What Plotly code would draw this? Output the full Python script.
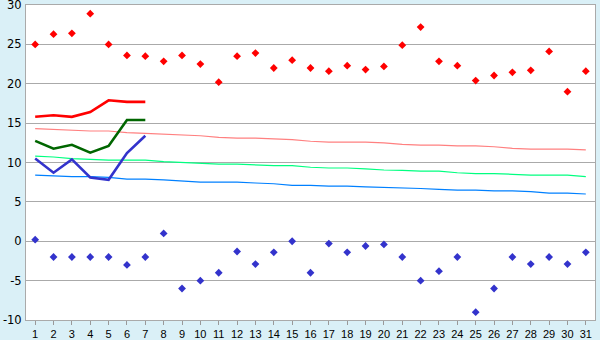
import plotly.graph_objects as go

days = list(range(1, 32))
tick_labels = [str(d) for d in days]

record_max = [25.0, 26.3, 26.4, 28.9, 25.0, 23.6, 23.5, 22.85, 23.6, 22.5,
              20.2, 23.5, 23.9, 22.0, 23.0, 22.0, 21.6, 22.3, 21.8, 22.2,
              24.9, 27.2, 22.85, 22.3, 20.4, 21.05, 21.45, 21.7, 24.1, 19.0, 21.6]
record_min = [0.2, -2.0, -2.0, -2.0, -2.0, -3.0, -2.0, 1.0, -6.0, -5.0,
              -4.0, -1.3, -2.9, -1.4, 0.0, -4.0, -0.3, -1.4, -0.6, -0.4,
              -2.0, -5.0, -3.8, -2.0, -9.0, -6.0, -2.0, -2.9, -2.0, -2.9, -1.4]

obs_days = [1, 2, 3, 4, 5, 6, 7]
obs_max = [15.8, 16.0, 15.8, 16.4, 17.9, 17.7, 17.7]
obs_mean = [12.75, 11.75, 12.25, 11.25, 12.1, 15.4, 15.4]
obs_min = [10.5, 8.7, 10.4, 8.1, 7.8, 11.2, 13.4]

norm_max = [14.3, 14.2, 14.1, 14.0, 14.0, 13.8, 13.7, 13.6, 13.5, 13.4,
            13.2, 13.1, 13.1, 13.0, 12.9, 12.7, 12.6, 12.6, 12.6, 12.5,
            12.3, 12.2, 12.2, 12.1, 12.1, 12.0, 11.8, 11.7, 11.7, 11.7, 11.6]
norm_mean = [10.8, 10.7, 10.5, 10.4, 10.3, 10.3, 10.3, 10.1, 10.0, 9.95,
             9.8, 9.8, 9.7, 9.6, 9.6, 9.4, 9.3, 9.3, 9.2, 9.05,
             9.0, 8.9, 8.9, 8.7, 8.6, 8.6, 8.5, 8.4, 8.4, 8.4, 8.2]
norm_min = [8.4, 8.3, 8.2, 8.2, 8.1, 7.9, 7.9, 7.8, 7.65, 7.5,
            7.5, 7.5, 7.4, 7.3, 7.1, 7.1, 7.0, 7.0, 6.9, 6.85,
            6.8, 6.7, 6.6, 6.5, 6.5, 6.4, 6.4, 6.3, 6.1, 6.1, 6.0]

y_ticks = [-10, -5, 0, 5, 10, 15, 20, 25, 30]
y_tick_text = ["-10", "-5", "0", "5", "10", "15", "20", "25", "30"]

fig = go.Figure()

fig.add_trace(go.Scatter(x=days, y=norm_max, mode="lines",
                         line=dict(color="#ff8080", width=1.2)))
fig.add_trace(go.Scatter(x=days, y=norm_mean, mode="lines",
                         line=dict(color="#00ff80", width=1.2)))
fig.add_trace(go.Scatter(x=days, y=norm_min, mode="lines",
                         line=dict(color="#0080ff", width=1.2)))

fig.add_trace(go.Scatter(x=obs_days, y=obs_max, mode="lines",
                         line=dict(color="#ff0000", width=2.6)))
fig.add_trace(go.Scatter(x=obs_days, y=obs_mean, mode="lines",
                         line=dict(color="#006600", width=2.6)))
fig.add_trace(go.Scatter(x=obs_days, y=obs_min, mode="lines",
                         line=dict(color="#3333cc", width=2.6)))

fig.add_trace(go.Scatter(x=days, y=record_max, mode="markers",
                         marker=dict(symbol="diamond", size=6, color="#ff0000")))
fig.add_trace(go.Scatter(x=days, y=record_min, mode="markers",
                         marker=dict(symbol="diamond", size=6, color="#3333cc")))

fig.update_layout(
    width=600, height=340,
    margin=dict(l=26, r=5, t=5, b=20, autoexpand=False),
    paper_bgcolor="#daf0f7",
    plot_bgcolor="#ffffff",
    showlegend=False,
    xaxis=dict(range=[0.5, 31.5], tickmode="array", tickvals=days, ticktext=tick_labels,
               ticks="outside", ticklen=4, tickcolor="#999999",
               showgrid=False, zeroline=False, showline=True, linecolor="#aaaaaa",
               mirror=True, automargin=False, ticklabelstandoff=0,
               ticklabeloverflow="allow",
               tickfont=dict(family="Liberation Sans Narrow, Liberation Sans, Arial", size=11, color="#000000")),
    yaxis=dict(range=[-10, 30], tickmode="array", tickvals=y_ticks, ticktext=y_tick_text,
               ticks="", showgrid=True, gridcolor="#aaaaaa", gridwidth=1,
               zeroline=False, showline=True, linecolor="#aaaaaa", mirror=True,
               ticklabelstandoff=1, automargin=False, ticklabeloverflow="allow",
               tickfont=dict(family="DejaVu Sans, Verdana", size=11.5, color="#000000")),
)

fig.write_html("out.html")
